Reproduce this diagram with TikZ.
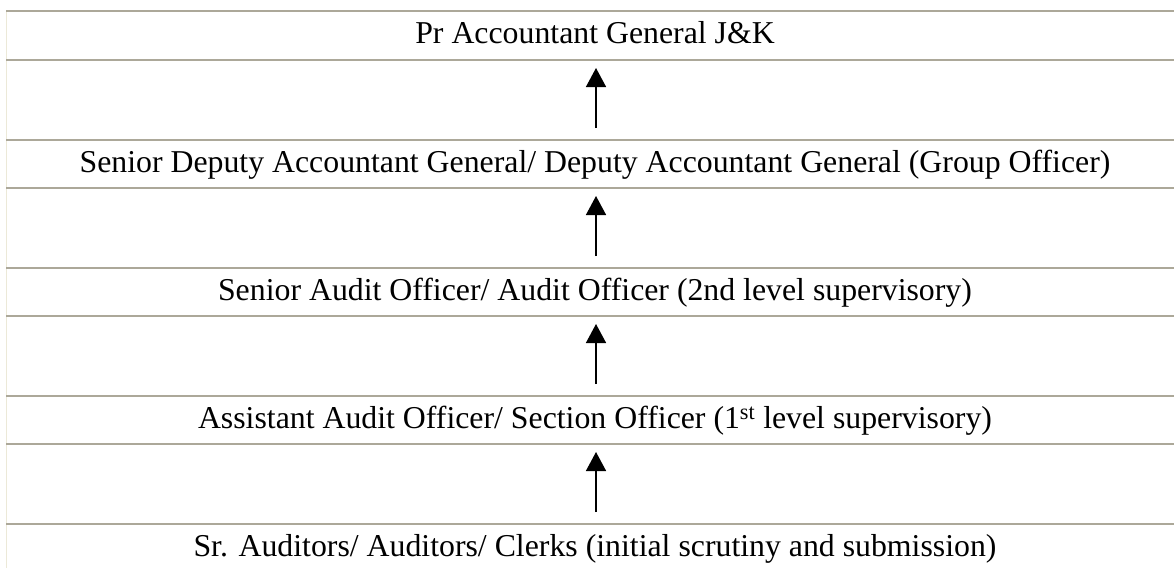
\documentclass[tikz,border=0pt]{standalone}
\usepackage{fontspec}
\setmainfont{Liberation Serif}
\usetikzlibrary{arrows.meta}
\definecolor{rulegray}{HTML}{ACA899}
\definecolor{sidegray}{HTML}{ECE9D8}
\begin{document}
\begin{tikzpicture}[x=1pt,y=-1pt,
  rowtext/.style={font=\fontsize{31.8}{38}\selectfont, anchor=base, inner sep=0pt},
  hrule/.style={draw=rulegray, line width=2pt},
  upar/.style={-{Triangle[width=20pt,length=19pt]}, line width=1.5pt, draw=black}]
\useasboundingbox (0,0) rectangle (1174,568);
% left border
\draw[draw=sidegray, line width=1.2pt] (6.5,11) -- (6.5,568);
% horizontal rules
\foreach \y in {11,60,140,188,268,316,396,444,524}
  \draw[hrule] (6,\y) -- (1174,\y);
% text rows
\node[rowtext] (r1) at (595,43.5) {Pr Accountant General J\&K};
\node[rowtext] (r2) at (595,172.5) {Senior Deputy Accountant General/ Deputy Accountant General (Group Officer)};
\node[rowtext] (r3) at (595,300.5) {Senior Audit Officer/ Audit Officer (2nd level supervisory)};
\node[rowtext] (r4) at (595,428.5) {Assistant Audit Officer/ Section Officer (1\textsuperscript{st} level supervisory)};
\node[rowtext] (r5) at (595,556.5) {Sr. Auditors/ Auditors/ Clerks (initial scrutiny and submission)};
% arrows
\foreach \t/\i in {60/a,188/b,316/c,444/d}{
  \coordinate (s\i) at (596,\t+68);
  \coordinate (e\i) at (596,\t+8);
}
\draw[upar] (sa) -- (ea);
\draw[upar] (sb) -- (eb);
\draw[upar] (sc) -- (ec);
\draw[upar] (sd) -- (ed);
\end{tikzpicture}
\end{document}
